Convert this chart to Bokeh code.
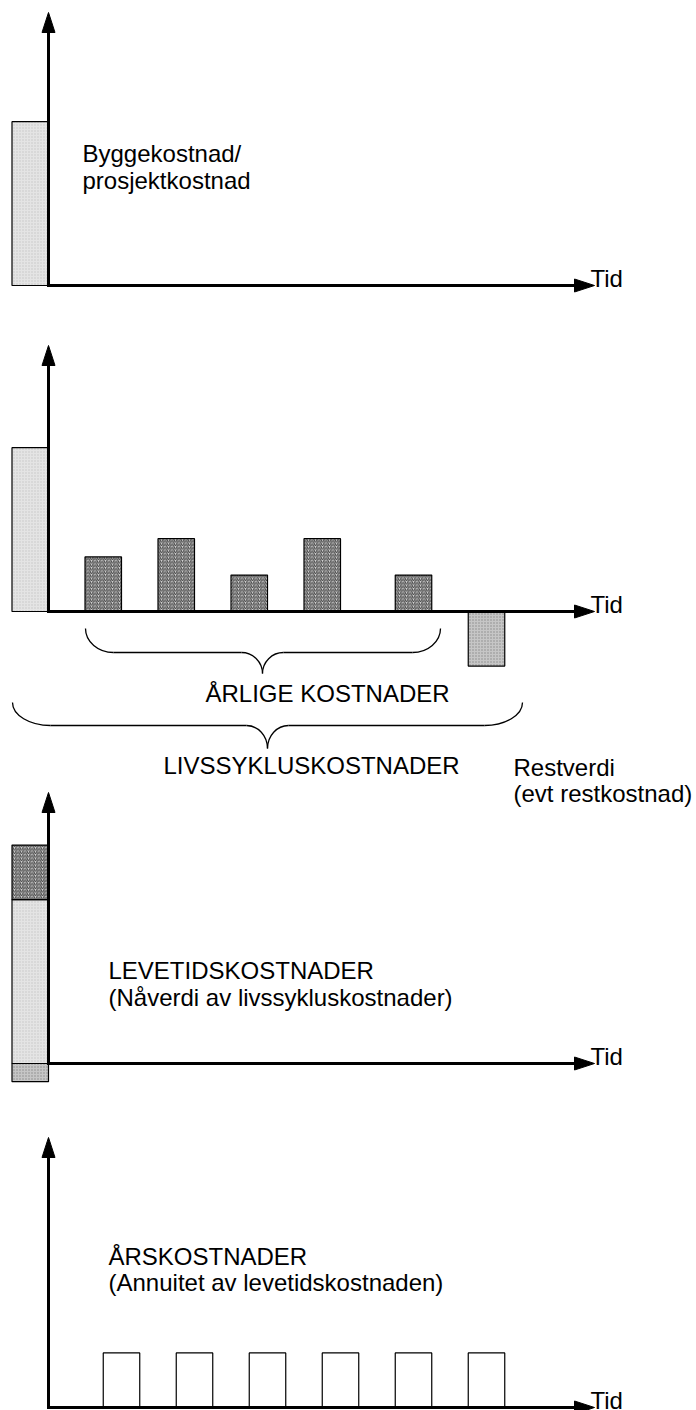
from bokeh.plotting import figure
from bokeh.models import Range1d
from bokeh.core.properties import value
from bokeh.embed import file_html
from bokeh.resources import INLINE

# ---------------- data (value units / time units) ----------------
build_time = [-0.25]
build_cost = [9.0]
annual_time = [0.75, 1.75, 2.75, 3.75, 5.0]
annual_cost = [3.0, 4.0, 2.0, 4.0, 2.0]
residual_time = [6.0]
residual_value = [-3.0]
npv_build = [9.0]
npv_annual = [3.0]
npv_residual = [-1.0]
annuity_time = [1, 2, 3, 4, 5, 6]
annuity_cost = [3.0, 3.0, 3.0, 3.0, 3.0, 3.0]

label_build = ["Byggekostnad/", "prosjektkostnad"]
label_time = "Tid"
label_annual = "ÅRLIGE KOSTNADER"
label_lcc = "LIVSSYKLUSKOSTNADER"
label_residual = ["Restverdi", "(evt restkostnad)"]
label_npv = ["LEVETIDSKOSTNADER", "(Nåverdi av livssykluskostnader)"]
label_annuity = ["ÅRSKOSTNADER", "(Annuitet av levetidskostnaden)"]

# ---------------- layout ----------------
W, H = 696, 1410
TX = 73.0      # px per time unit
PX = 18.2      # px per value unit
X0 = 48.0      # px of t = 0
Y0 = 1407.0    # px of lowest baseline
BAR_W = 0.5

def dx(px):
    return px / TX

def dy(px):
    return px / PX

BASE_PIX = [285, 611, 1063, 1407]
base = [(Y0 - y) / PX for y in BASE_PIX]
AXIS_UP = [273, 266, 271, 270]
X_TIP = dx(546)

p = figure(width=W, height=H, output_backend="svg", toolbar_location=None,
           x_axis_location=None, y_axis_location=None, title=None,
           x_range=Range1d(-X0 / TX, (W - X0) / TX),
           y_range=Range1d(-(H - Y0) / PX, Y0 / PX))
p.min_border = 0
p.outline_line_color = None
p.grid.visible = False
p.background_fill_color = "white"
p.border_fill_color = "white"

FONT = value("Liberation Sans")
FS = "24px"

light = dict(fill_color="#e4e4e4", hatch_pattern="dot", hatch_scale=3,
             hatch_color="#c4c4c4", hatch_weight=1,
             line_color="black", line_width=1.2)
dark = dict(fill_color="#d6d6d6", hatch_pattern="right_diagonal_line", hatch_scale=3.5,
            hatch_color="#404040", hatch_weight=1,
            line_color="black", line_width=1.2)
mid = dict(fill_color="#c6c6c6", hatch_pattern="dot", hatch_scale=3,
           hatch_color="#8a8a8a", hatch_weight=1,
           line_color="black", line_width=1.2)
empty = dict(fill_color="white", line_color="black", line_width=1.2)

def txt(x, y, s):
    p.text(x=[x], y=[y], text=[s], text_font=FONT, text_font_size=FS,
           text_align="left", text_baseline="alphabetic", text_color="black")

# ---------------- bars ----------------
b1, b2, b3, b4 = base
# panel 1
p.vbar(x=build_time, width=BAR_W, bottom=b1, top=[b1 + v for v in build_cost], **light)
# panel 2
p.vbar(x=build_time, width=BAR_W, bottom=b2, top=[b2 + v for v in build_cost], **light)
p.vbar(x=annual_time, width=BAR_W, bottom=b2, top=[b2 + v for v in annual_cost], **dark)
p.vbar(x=residual_time, width=BAR_W, bottom=b2, top=[b2 + v for v in residual_value], **mid)
# panel 3 (stacked)
p.vbar(x=build_time, width=BAR_W, bottom=b3, top=[b3 + v for v in npv_build], **light)
p.vbar(x=build_time, width=BAR_W, bottom=[b3 + v for v in npv_build],
       top=[b3 + v + a for v, a in zip(npv_build, npv_annual)], **dark)
p.vbar(x=build_time, width=BAR_W, bottom=b3, top=[b3 + v for v in npv_residual], **mid)
# panel 4
p.vbar(x=annuity_time, width=BAR_W, bottom=b4, top=[b4 + v for v in annuity_cost], **empty)

# ---------------- axes with arrow heads ----------------
HEAD_L, HEAD_W = 20, 13
sx0, sy0, sx1, sy1 = [], [], [], []
hx, hy = [], []
for bb, up in zip(base, AXIS_UP):
    top = bb + dy(up)
    sx0 += [0, -dx(1.5)]; sy0 += [bb, bb]
    sx1 += [0, X_TIP - dx(HEAD_L - 2)]; sy1 += [top - dy(HEAD_L - 2), bb]
    hx.append([-dx(HEAD_W / 2), 0, dx(HEAD_W / 2)])
    hy.append([top - dy(HEAD_L), top, top - dy(HEAD_L)])
    hx.append([X_TIP - dx(HEAD_L), X_TIP, X_TIP - dx(HEAD_L)])
    hy.append([bb + dy(HEAD_W / 2), bb, bb - dy(HEAD_W / 2)])
p.segment(x0=sx0, y0=sy0, x1=sx1, y1=sy1, line_color="black", line_width=3)
p.patches(xs=hx, ys=hy, fill_color="black", line_color="black", line_width=1)

# ---------------- braces ----------------
def brace(xl, xr, xc, ytop, ymid, ytip, re, rc):
    bz = dict(x0=[], y0=[], x1=[], y1=[], cx0=[], cy0=[], cx1=[], cy1=[])
    def add(a, b, c0, c1):
        bz["x0"].append(a[0]); bz["y0"].append(a[1])
        bz["x1"].append(b[0]); bz["y1"].append(b[1])
        bz["cx0"].append(c0[0]); bz["cy0"].append(c0[1])
        bz["cx1"].append(c1[0]); bz["cy1"].append(c1[1])
    h = ymid - ytop
    d = ytip - ymid
    add((xl, ytop), (xl + re, ymid), (xl, ytop + 0.55 * h), (xl + 0.45 * re, ymid))
    add((xr, ytop), (xr - re, ymid), (xr, ytop + 0.55 * h), (xr - 0.45 * re, ymid))
    add((xc - rc, ymid), (xc, ytip), (xc - 0.45 * rc, ymid), (xc, ymid + 0.45 * d))
    add((xc + rc, ymid), (xc, ytip), (xc + 0.45 * rc, ymid), (xc, ymid + 0.45 * d))
    p.bezier(**bz, line_color="black", line_width=1.3)
    p.segment(x0=[xl + re, xc + rc], y0=[ymid, ymid], x1=[xc - rc, xr - re], y1=[ymid, ymid],
              line_color="black", line_width=1.3)

brace(dx(37), dx(392), dx(214), b2 - dy(17), b2 - dy(41), b2 - dy(62), dx(28), dx(21))
brace(dx(-36), dx(474), dx(219), b2 - dy(91), b2 - dy(114), b2 - dy(137), dx(38), dx(21))

# ---------------- texts ----------------
TX_TID = dx(542)
for bb in base:
    txt(TX_TID, bb + dy(7), label_time)
txt(dx(34), b1 + dy(132), label_build[0])
txt(dx(34), b1 + dy(105), label_build[1])
txt(dx(157), b2 - dy(82), label_annual)
txt(dx(115), b2 - dy(154), label_lcc)
txt(dx(465), b2 - dy(156), label_residual[0])
txt(dx(465), b2 - dy(182), label_residual[1])
txt(dx(60), b3 + dy(93), label_npv[0])
txt(dx(60), b3 + dy(66), label_npv[1])
txt(dx(60), b4 + dy(151), label_annuity[0])
txt(dx(60), b4 + dy(125), label_annuity[1])

open("out.html", "w").write(file_html(p, INLINE))
